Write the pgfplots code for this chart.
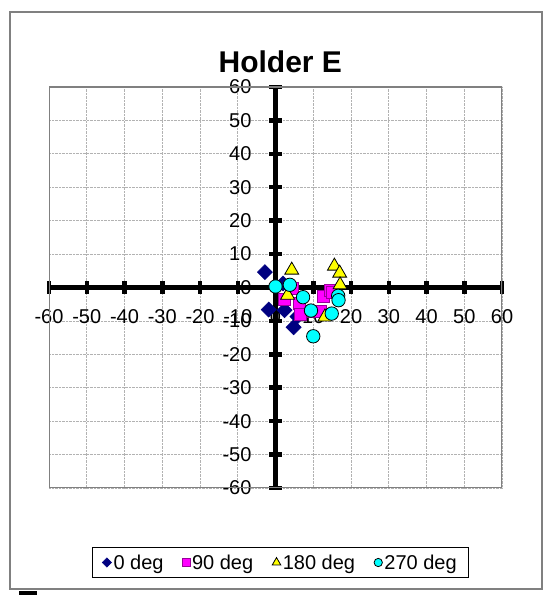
\documentclass[border=0pt]{standalone}
\usepackage{fontspec}
\setmainfont{Liberation Sans}
\usepackage{pgfplots}
\pgfplotsset{compat=1.18}
\definecolor{navyx}{RGB}{0,0,128}
\definecolor{magx}{RGB}{255,0,255}
\definecolor{yelx}{RGB}{255,255,0}
\definecolor{cyanx}{RGB}{0,255,255}
\definecolor{framegray}{RGB}{128,128,128}
\begin{document}
\begin{tikzpicture}[x=1pt,y=1pt]
\useasboundingbox (0,0) rectangle (545,595);
\draw[framegray, line width=2pt] (10,6) rectangle (541.5,583);
\fill[black] (19,0) rectangle (37,3.5);
\node[font=\fontsize{30}{34}\selectfont\bfseries, anchor=base] at (280.3,522.7) {Holder E};
\begin{axis}[
  at={(49pt,107pt)}, anchor=south west,
  scale only axis, width=453pt, height=401pt,
  xmin=-60, xmax=60, ymin=-60, ymax=60,
  axis lines=middle,
  axis line style={black, line width=4.5pt, -},
  xtick={-60,-50,...,60}, ytick={-60,-50,...,60},
  xticklabels={-60,-50,-40,-30,-20,-10,0,10,20,30,40,50,60},
  yticklabels={-60,-50,-40,-30,-20,-10,0,10,20,30,40,50,60},
  hide obscured x ticks=false, hide obscured y ticks=false,
  tick align=center, major tick length=13pt,
  major tick style={black, line width=4.5pt},
  grid=major, grid style={densely dotted, black!30, line width=0.8pt},
  ticklabel style={font=\fontsize{20}{24}\selectfont},
  xticklabel style={anchor=north, yshift=-12pt},
  yticklabel style={anchor=east, xshift=-14pt},
  legend columns=4,
  legend style={at={(0.511,-0.1858)}, anchor=center, draw=black, line width=0.75pt,
    font=\fontsize{20}{24}\selectfont, inner xsep=10pt, inner ysep=5pt,
    /tikz/every even column/.append style={column sep=17pt}},
  legend image code/.code={\draw[#1] plot coordinates {(0pt,0pt)};},
  legend image post style={/tikz/every mark/.append style={scale=0.62}},
]
\addplot[only marks, mark=square*, mark options={rotate=45, fill=navyx, draw=navyx, line width=0.6pt}, mark size=5.3pt] coordinates {
(-2.8,4.6) (2,1.2) (-1.8,-6.6) (2.4,-6.8) (5.8,-8.7) (4.8,-11.9)
};
\addlegendentry{0 deg}
\addplot[only marks, mark=square*, mark options={fill=magx, draw=magx!60!black, line width=0.6pt}, mark size=6pt] coordinates {
(4.5,-0.3) (2.2,-3.5) (6.3,-4.8) (12.7,-2.7) (14.4,-0.8) (15,-1.5) (9.6,-7.2) (11.8,-7.2) (6.5,-8.0)
};
\addlegendentry{90 deg}
\addplot[only marks, mark=triangle*, mark options={fill=yelx, draw=black, line width=0.8pt}, mark size=8pt] coordinates {
(4.3,5.2) (3.2,-2.3) (15.6,6.4) (17,4.3) (17.1,0.8) (13.1,-8.8)
};
\addlegendentry{180 deg}
\addplot[only marks, mark=*, mark options={fill=cyanx, draw=black, line width=0.8pt}, mark size=6.7pt] coordinates {
(0,0.3) (3.8,0.8) (7.3,-2.9) (9.4,-6.9) (14.9,-7.8) (16.6,-2.5) (16.7,-3.8) (10,-14.6)
};
\addlegendentry{270 deg}
\draw[framegray, line width=2pt] (rel axis cs:0,0) rectangle (rel axis cs:1,1);
\end{axis}
\end{tikzpicture}
\end{document}
